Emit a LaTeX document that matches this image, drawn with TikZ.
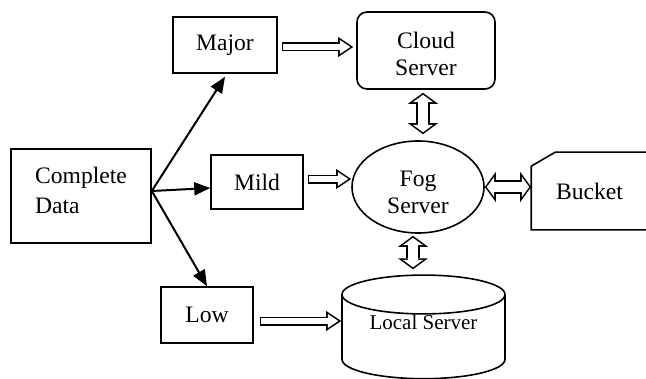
\documentclass[tikz,border=0pt]{standalone}
\usepackage{fontspec}
\setmainfont{Liberation Serif}
\usepackage{tikz}
\usetikzlibrary{positioning,arrows.meta,calc,shapes.geometric}

\tikzset{
  grande/.tip={Triangle[length=7.5pt 0,width=10pt 0,line width=0pt]},
  petite/.tip={Triangle[length=5.26pt 0,width=7pt 0,line width=0pt]},
  grandedouble/.tip={Triangle[length=5.5pt 0,width=15pt 0,line width=0pt]},
  petitedouble/.tip={Triangle[length=3.71pt 0,width=10.1pt 0,line width=0pt]}
}

\begin{document}
\begin{tikzpicture}[x=0.5pt,y=-0.5pt,
  bloc/.style={draw,line width=0.8pt,inner sep=0pt,align=center,font=\fontsize{11.8}{13.5}\selectfont},
  fleche/.style={line width=1pt,-{Triangle[length=8pt,width=6.5pt]}},
  creux/.style={draw=white,line width=2.9pt,shorten <=0.8pt,shorten >=1.44pt,-petite,
    preaction={draw=black,line width=4.5pt,shorten <=0pt,shorten >=0pt,-grande}},
  creuxdouble/.style={draw=white,line width=5.4pt,shorten <=0.99pt,shorten >=0.99pt,petitedouble-petitedouble,
    preaction={draw=black,line width=7pt,shorten <=0pt,shorten >=0pt,grandedouble-grandedouble}}
]
\useasboundingbox (0,0) rectangle (646,379);
\clip (0,0) rectangle (646,379);

% boites
\node[bloc,align=left,text depth=6pt,minimum width=70pt,minimum height=47pt] (donnees) at (81,196) {Complete\\[1.5pt]Data};
\node[bloc,minimum width=52pt,minimum height=28pt] (majeur) at (225,45) {Major};
\node[bloc,minimum width=46pt,minimum height=27pt] (modere) at (257,182) {Mild};
\node[bloc,minimum width=46pt,minimum height=28pt] (faible) at (207,315) {Low};

% serveurs
\node[bloc,rounded corners=5pt,text height=25.5pt,minimum width=69pt,minimum height=38.5pt] (nuage) at (426,50.5) {Cloud\\Server};
\node[bloc,ellipse,text height=26.5pt,minimum width=66pt,minimum height=46pt] (fog) at (418,187) {Fog\\Server};
\node[bloc,cylinder,shape border rotate=90,aspect=0.36,minimum width=81.5pt,minimum height=51pt,
  text depth=15pt,font=\fontsize{10.5}{12}\selectfont] (local) at (423.5,337) {Local Server};
\node[bloc,draw=none,minimum width=64pt,minimum height=38pt,text width=40pt,align=left] (seau) at (596,191) {Bucket};
\draw[line width=0.8pt] (seau.north east) -- ([xshift=12pt]seau.north west) -- ([yshift=-7pt]seau.north west)
  -- (seau.south west) -- (seau.south east);

% tri des donnees
\coordinate (depart) at ([yshift=2.5pt]donnees.east);
\draw[fleche] (depart) -- ([yshift=-1.5pt]majeur.south);
\draw[fleche] (depart) -- ([yshift=-3pt]modere.west);
\draw[fleche] (depart) -- (faible.north);

% envois vers les serveurs
\draw[creux] ([xshift=2pt,yshift=-1pt]majeur.east) -- ([xshift=-1.5pt,yshift=-1pt]majeur.east -| nuage.west);
\draw[creux] ([xshift=2pt,yshift=1.5pt]modere.east) -- ([yshift=1.5pt]modere.east -| fog.west);
\draw[creux] ([xshift=3pt,yshift=-3pt]faible.east) -- ([yshift=-3pt]faible.east -| local.west);
\draw[creuxdouble] (fog.east) -- (fog.east -| seau.west);
\draw[creuxdouble] ([xshift=2.5pt,yshift=-1.5pt]fog.north |- nuage.south) -- ([xshift=2.5pt,yshift=3pt]fog.north);
\draw[creuxdouble] ([xshift=-2.5pt,yshift=-1pt]fog.south) -- ([xshift=-2.5pt,yshift=2.5pt]fog.south |- local.north);
\end{tikzpicture}
\end{document}
